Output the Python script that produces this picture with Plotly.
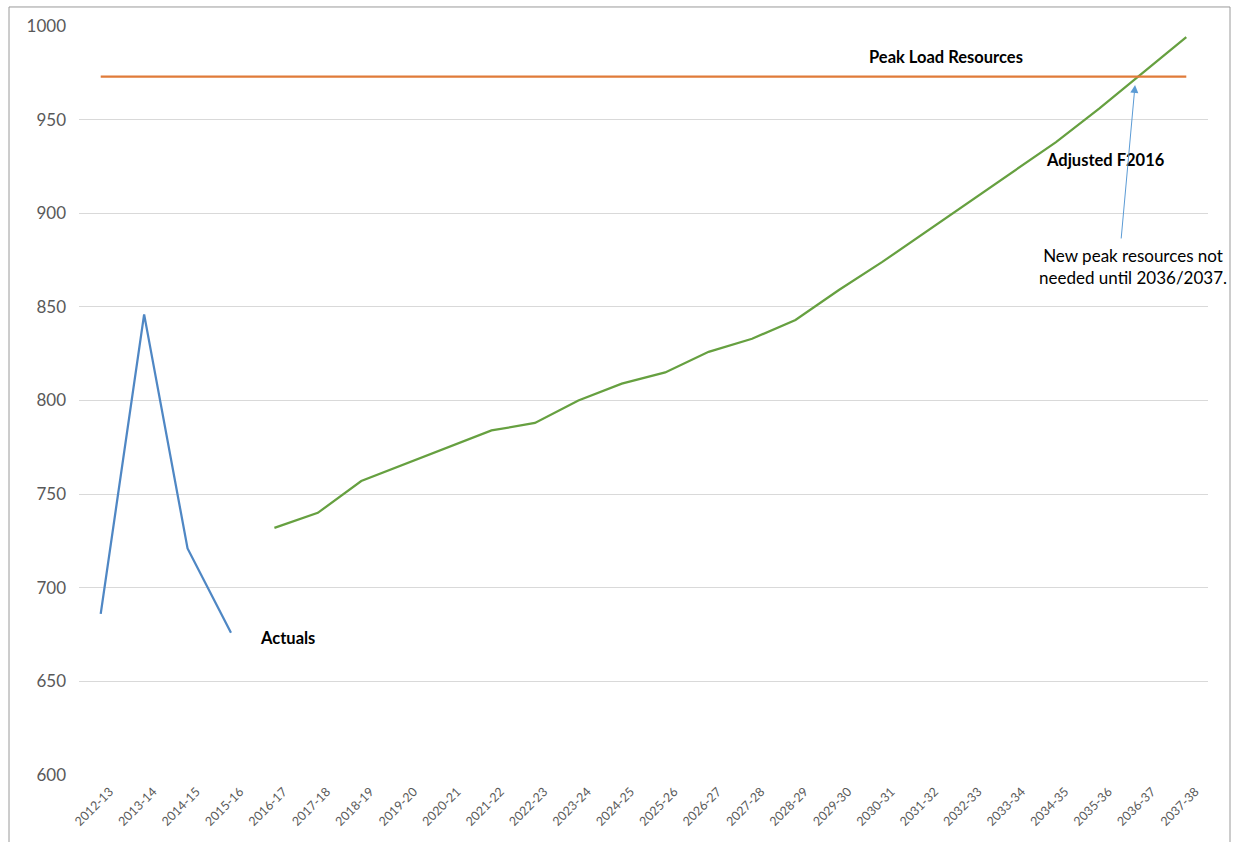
import plotly.graph_objects as go

categories = ["2012-13", "2013-14", "2014-15", "2015-16", "2016-17", "2017-18", "2018-19",
              "2019-20", "2020-21", "2021-22", "2022-23", "2023-24", "2024-25", "2025-26",
              "2026-27", "2027-28", "2028-29", "2029-30", "2030-31", "2031-32", "2032-33",
              "2033-34", "2034-35", "2035-36", "2036-37", "2037-38"]
actuals = [686, 846, 721, 676]
adjusted_f2016 = [732, 740, 757, 766, 775, 784, 788, 800, 809, 815, 826, 833, 843,
                  859, 874, 890, 906, 922, 938, 956, 975, 994]
peak_load_resources = 973

FONT = "Lato"
fig = go.Figure()
fig.add_trace(go.Scatter(x=categories[:len(actuals)], y=actuals, mode="lines",
                         line=dict(color="#4F87C4", width=2.25), name="Actuals"))
fig.add_trace(go.Scatter(x=categories[4:4 + len(adjusted_f2016)], y=adjusted_f2016, mode="lines",
                         line=dict(color="#66A040", width=2.25), name="Adjusted F2016"))
fig.add_trace(go.Scatter(x=categories, y=[peak_load_resources] * len(categories), mode="lines",
                         line=dict(color="#E07B39", width=2.25), name="Peak Load Resources"))

fig.update_layout(
    width=1235, height=842,
    margin=dict(l=79, r=27, t=26, b=67),
    paper_bgcolor="white", plot_bgcolor="white",
    showlegend=False,
    font=dict(family=FONT, color="#595959"),
    xaxis=dict(type="category", categoryorder="array", categoryarray=categories,
               range=[-0.5, len(categories) - 0.5], tickangle=-45,
               tickfont=dict(size=12.5, color="#595959", family=FONT),
               showgrid=False, zeroline=False, showline=False, ticks="",
               ticklabelshift=9, ticklabelstandoff=6),
    yaxis=dict(range=[600, 1000], dtick=50, tickfont=dict(size=17, color="#595959", family=FONT),
               showgrid=True, gridcolor="#D9D9D9", gridwidth=1, zeroline=False,
               showline=False, ticks="", ticklabelstandoff=12),
)

bold = dict(family=FONT, size=16.5, color="black")
fig.add_annotation(x=19.47, y=983.4, text="<b>Peak Load Resources</b>", showarrow=False, font=bold)
fig.add_annotation(x=23.13, y=928.4, text="<b>Adjusted F2016</b>", showarrow=False, font=bold)
fig.add_annotation(x=4.29, y=673.2, text="<b>Actuals</b>", showarrow=False, font=bold)
fig.add_annotation(x=23.78, y=871.8, text="New peak resources not<br>needed until 2036/2037.",
                   showarrow=False, font=dict(family=FONT, size=17, color="black"), align="center")
fig.add_annotation(x=23.82, y=968.5, ax=-14, ay=155, text="", showarrow=True,
                   arrowhead=2, arrowsize=1.6, arrowwidth=1, arrowcolor="#5B9BD5", standoff=0)

fig.add_shape(type="rect", xref="paper", yref="paper", x0=-0.062, x1=1.0195, y0=-0.3, y1=1.0254,
              line=dict(color="#9A9A9A", width=1), layer="below")

fig.write_html("out.html")
